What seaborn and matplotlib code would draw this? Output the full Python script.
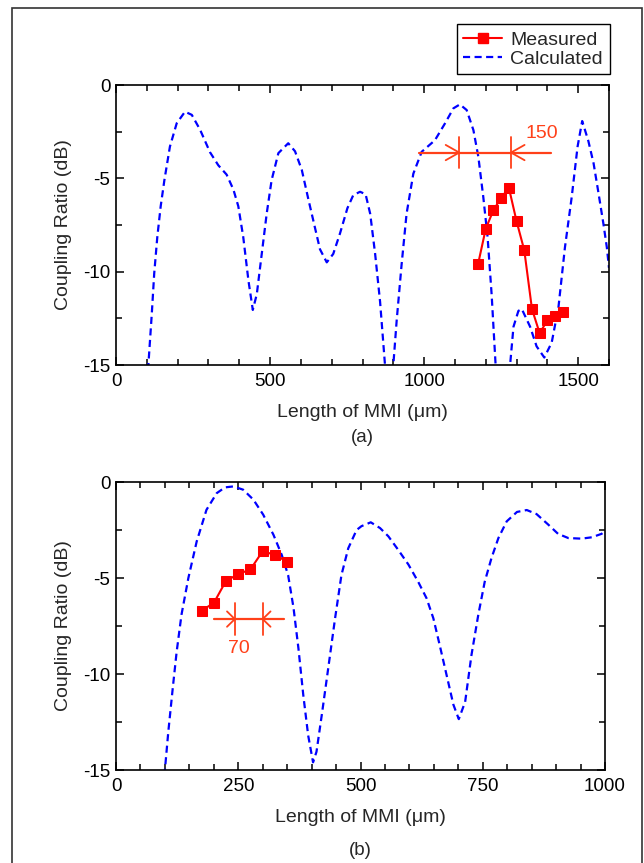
import numpy as np
import pandas as pd
import seaborn as sns
import matplotlib.pyplot as plt
from matplotlib.ticker import MultipleLocator
from matplotlib.lines import Line2D
from matplotlib.patches import Rectangle

# ---- panel (a) data ----
meas_a_len = [1175, 1200, 1225, 1250, 1275, 1300, 1325, 1350, 1375, 1400, 1425, 1450]
meas_a_cr = [-9.6, -7.7, -6.7, -6.05, -5.5, -7.3, -8.85, -12.0, -13.3, -12.6, -12.4, -12.15]

calc_a_len = [95, 105, 116, 124, 134, 145, 157, 175, 197, 224, 246, 273, 305, 332, 359,
              381, 397, 413, 430, 444, 457, 473, 489, 505, 527, 559, 581, 603, 624, 643,
              662, 684, 705, 727, 751, 770, 792, 810, 825, 841, 857, 873, 886, 900, 911,
              927, 943, 965, 992, 1035, 1068, 1095, 1116, 1138, 1160, 1176, 1192, 1206,
              1219, 1232, 1255, 1279, 1290, 1306, 1317, 1344, 1365, 1390, 1414, 1436,
              1457, 1479, 1498, 1513, 1533, 1550, 1566, 1582, 1593, 1600]
calc_a_cr = [-16.5, -15.0, -12.3, -10.1, -8.15, -6.5, -5.1, -3.3, -2.05, -1.43, -1.6, -2.4,
             -3.6, -4.3, -4.8, -5.6, -6.5, -8.15, -10.5, -12.05, -11.2, -9.05, -6.9, -5.1,
             -3.65, -3.12, -3.55, -4.55, -6.1, -7.45, -8.8, -9.5, -9.05, -7.95, -6.6,
             -5.9, -5.72, -5.85, -6.9, -9.05, -11.6, -15.0, -19.0, -15.0, -12.6, -9.6,
             -6.9, -4.75, -3.58, -2.96, -2.05, -1.25, -1.04, -1.34, -2.42, -3.85, -6.0,
             -8.15, -11.2, -15.0, -19.0, -15.0, -12.95, -12.1, -12.0, -12.95, -14.0,
             -14.6, -13.8, -11.9, -8.7, -6.0, -3.3, -1.93, -3.0, -4.2, -5.8, -7.45, -8.7,
             -9.8]

# ---- panel (b) data ----
meas_b_len = [175, 200, 225, 250, 275, 300, 325, 350]
meas_b_cr = [-6.7, -6.3, -5.15, -4.8, -4.55, -3.6, -3.8, -4.15]

calc_b_len = [95, 100, 107, 116, 124, 134, 148, 165, 185, 206, 223, 240, 260, 281, 301,
              322, 339, 352, 363, 373, 383, 393, 403, 410, 421, 434, 448, 461, 475, 492,
              502, 521, 540, 557, 577, 598, 618, 635, 649, 662, 676, 690, 701, 714, 727,
              741, 754, 768, 782, 799, 820, 840, 860, 884, 904, 925, 952, 973, 993, 1000]
calc_b_cr = [-16.5, -15.0, -13.0, -10.75, -8.85, -6.9, -5.0, -3.1, -1.45, -0.58, -0.28,
             -0.23, -0.4, -0.92, -1.7, -2.75, -3.8, -4.85, -6.55, -8.65, -11.1, -13.2,
             -14.6, -14.05, -12.1, -9.7, -7.1, -4.85, -3.45, -2.5, -2.3, -2.1, -2.4,
             -2.83, -3.53, -4.3, -5.2, -6.05, -7.1, -8.5, -10.05, -11.6, -12.35, -11.45,
             -9.0, -6.9, -5.2, -3.95, -2.92, -2.05, -1.56, -1.46, -1.67, -2.22, -2.7,
             -2.92, -2.95, -2.88, -2.7, -2.57]

# spacing markers: line ends, the two tick positions, level, label and its place
span_a = dict(x0=984, x1=1411, t0=1114, t1=1282, y=-3.62, text="150", tx=1382, ty=-2.6)
span_b = dict(x0=201, x1=343, t0=243, t1=300, y=-7.14, text="70", tx=252, ty=-8.69)

sns.set_style("ticks")
plt.rcParams["font.family"] = ["Liberation Sans", "DejaVu Sans"]
plt.rcParams["axes.unicode_minus"] = False

red = "#ff0000"
blue = "#0000ff"
orange = "#ff4019"
dash = (0, (3.2, 2.0))

fig = plt.figure(figsize=(6.44, 8.63), dpi=100)
ax_a = fig.add_axes([116 / 644, 1 - 365 / 863, 493 / 644, 280 / 863])
ax_b = fig.add_axes([116 / 644, 1 - 770 / 863, 489 / 644, 288 / 863])

# outer frame of the figure
fig.patches.append(Rectangle((12 / 644, -0.05), 630 / 644, 1.05 - 8 / 863,
                             transform=fig.transFigure, fill=False,
                             edgecolor="#333333", linewidth=1.2))


def draw_span(ax, s, arm_dx, arm_dy, tick_dy):
    ax.plot([s["x0"], s["x1"]], [s["y"], s["y"]], color=orange, lw=1.6)
    for t, d in [(s["t0"], -arm_dx), (s["t1"], arm_dx)]:
        ax.plot([t, t], [s["y"] - tick_dy, s["y"] + tick_dy], color=orange, lw=1.3)
        ax.plot([t + d, t, t + d], [s["y"] + arm_dy, s["y"], s["y"] - arm_dy],
                color=orange, lw=1.3)
    ax.text(s["tx"], s["ty"], s["text"], color=orange, fontsize=14,
            ha="center", va="center")


panels = [
    (ax_a, calc_a_len, calc_a_cr, meas_a_len, meas_a_cr, 1600, 500, 100, span_a, 44, 0.41, "(a)", -0.26),
    (ax_b, calc_b_len, calc_b_cr, meas_b_len, meas_b_cr, 1000, 250, 50, span_b, 16, 0.40, "(b)", -0.28),
]

for ax, cx, cy, mx, my, xmax, major, minor, span, arm_dx, arm_dy, tag, tag_y in panels:
    sns.lineplot(x=cx, y=cy, ax=ax, color=blue, linestyle=dash, lw=1.6,
                 errorbar=None, sort=False)
    sns.lineplot(x=mx, y=my, ax=ax, color=red, lw=1.5, marker="s", markersize=6.5,
                 markeredgecolor=red, errorbar=None, sort=False)
    draw_span(ax, span, arm_dx, arm_dy, 0.82)

    ax.set_xlim(0, xmax)
    ax.set_ylim(-15, 0)
    ax.xaxis.set_major_locator(MultipleLocator(major))
    ax.xaxis.set_minor_locator(MultipleLocator(minor))
    ax.yaxis.set_major_locator(MultipleLocator(5))
    ax.yaxis.set_minor_locator(MultipleLocator(2.5))
    ax.tick_params(which="both", direction="in", top=True, right=True, width=1.1,
                   labelsize=13.5, colors="black")
    ax.tick_params(which="major", length=6)
    ax.tick_params(which="minor", length=4)
    ax.tick_params(axis="x", which="major", pad=6)
    ax.tick_params(axis="y", which="major", pad=4)
    for sp in ax.spines.values():
        sp.set_linewidth(1.2)
        sp.set_color("black")
    ax.set_xlabel("Length of MMI (\u03bcm)", fontsize=14, labelpad=10)
    ax.set_ylabel("Coupling Ratio (dB)", fontsize=14, labelpad=8)
    ax.text(0.5, tag_y, tag, transform=ax.transAxes,
            ha="center", va="center", fontsize=13.5)

handles = [
    Line2D([], [], color=red, lw=1.5, marker="s", markersize=6.5),
    Line2D([], [], color=blue, lw=1.6, linestyle=dash),
]
leg = fig.legend(handles, ["Measured", "Calculated"], loc="upper right",
                 bbox_to_anchor=(609.5 / 644, 1 - 24.5 / 863), borderaxespad=0,
                 fontsize=14, frameon=True, fancybox=False, framealpha=1,
                 edgecolor="black", handlelength=2.0, handletextpad=0.4,
                 borderpad=0.35, labelspacing=0.05)
leg.get_frame().set_linewidth(1.0)

fig.savefig("out.png", dpi=100)
